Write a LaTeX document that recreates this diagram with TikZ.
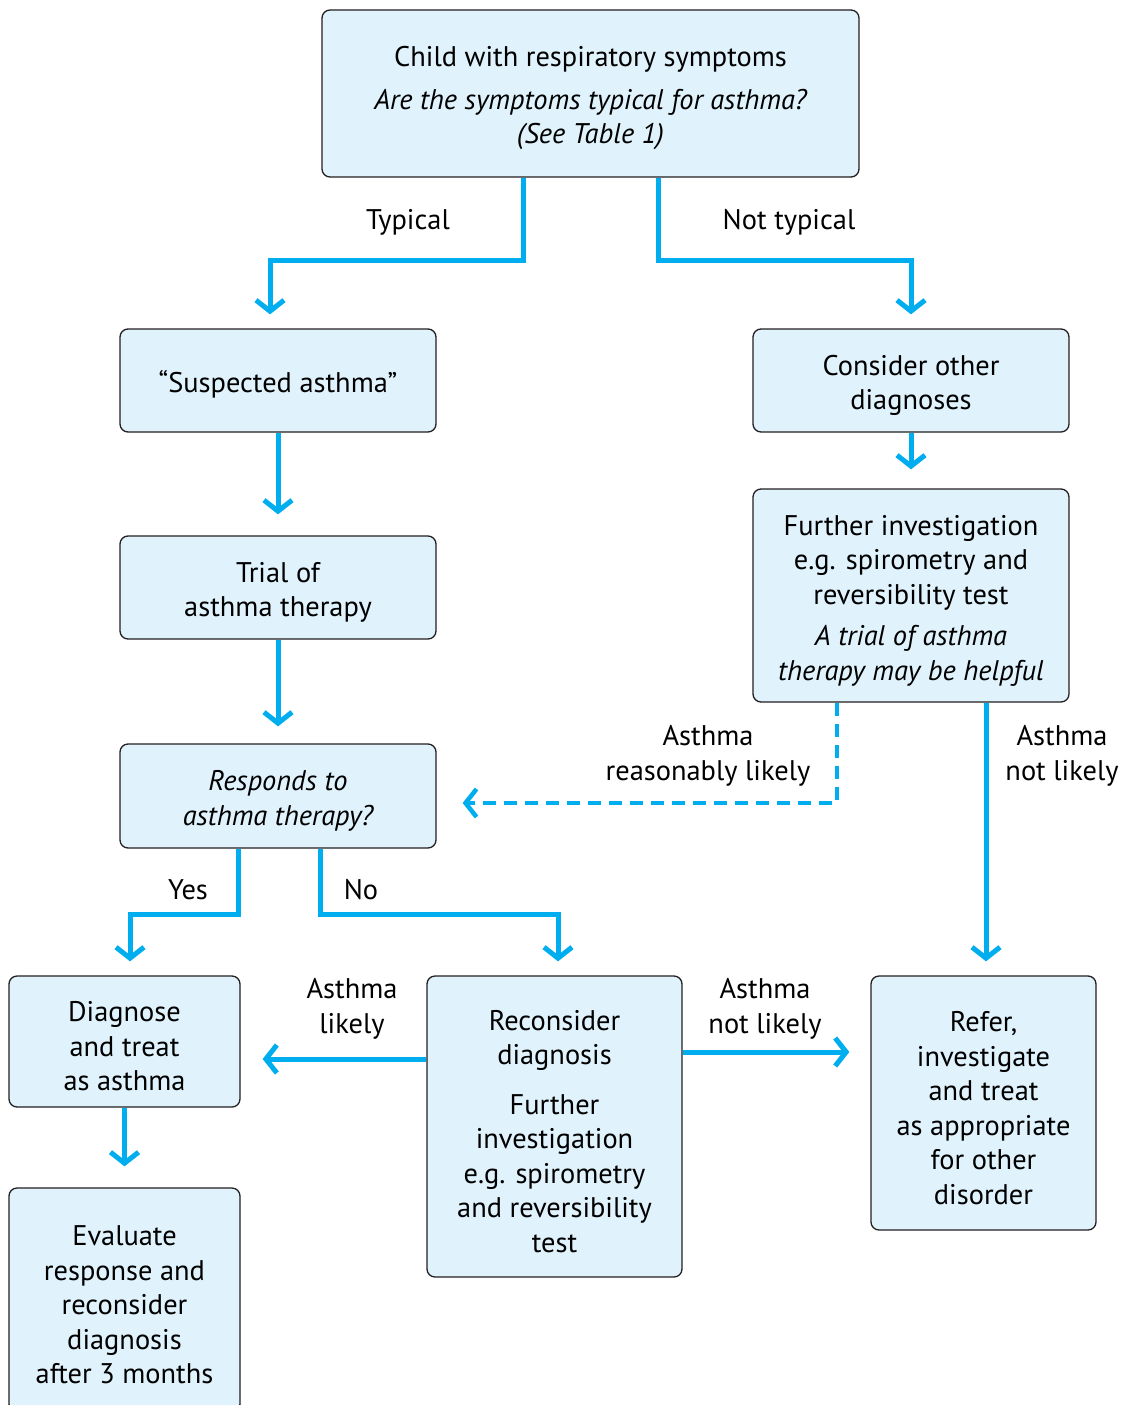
\documentclass[tikz,border=0pt]{standalone}
\usepackage{fontspec}
\setmainfont{PT Sans}
\usetikzlibrary{arrows.meta}
\definecolor{boxfill}{RGB}{224,242,252}
\definecolor{boxline}{RGB}{35,31,32}
\definecolor{flow}{RGB}{0,174,239}
% extra head room on the first line of a box
\newcommand{\headroom}{\rule{0pt}{30pt}}
\begin{document}
\begin{tikzpicture}[x=1pt,y=-1pt,
  every node/.style={font=\fontsize{28.4}{34.5}\selectfont, text=black},
  box/.style={draw=boxline, line width=1.3pt, fill=boxfill, rounded corners=8pt,
    align=center, inner sep=0pt},
  lbl/.style={align=center, inner sep=0pt},
  arr/.style={draw=flow, line width=5pt, line join=miter,
    -{Straight Barb[length=11pt,width=28pt]}},
  darr/.style={arr, line width=4.5pt, dash pattern=on 13pt off 8pt}]
\clip (0,0) rectangle (1125,1405);

% boxes
\node[box, minimum width=537pt, minimum height=167pt] (top) at (590.5,93.5)
  {\headroom Child with respiratory symptoms\\[8pt]
   \itshape Are the symptoms typical for asthma?\\ \itshape (See Table 1)};
\node[box, minimum width=316pt, minimum height=103pt] (susp) at (278,380.5)
  {\headroom``Suspected asthma''};
\node[box, minimum width=316pt, minimum height=103pt] (trial) at (278,587.5)
  {\headroom Trial of\\asthma therapy};
\node[box, minimum width=316pt, minimum height=104pt] (resp) at (278,796)
  {\headroom\itshape Responds to\\ \itshape asthma therapy?};
\node[box, minimum width=316pt, minimum height=103pt] (cons) at (911,380.5)
  {\headroom Consider other\\diagnoses};
\node[box, minimum width=316pt, minimum height=213pt] (further) at (911,595.5)
  {\headroom Further investigation\\e.g. spirometry and\\reversibility test\\[7pt]
   \itshape A trial of asthma\\ \itshape therapy may be helpful};
\node[box, minimum width=231pt, minimum height=131pt] (diag) at (124.5,1041.5)
  {\headroom Diagnose\\and treat\\as asthma};
\node[box, minimum width=231pt, minimum height=224pt] (eval) at (124.5,1300)
  {\headroom Evaluate\\response and\\reconsider\\diagnosis\\after 3 months};
\node[box, minimum width=255pt, minimum height=301pt] (recon) at (554.5,1126.5)
  {\headroom Reconsider\\diagnosis\\[15pt]Further\\investigation\\e.g. spirometry\\and reversibility\\test};
\node[box, minimum width=225pt, minimum height=254pt] (refer) at (983.5,1103)
  {\headroom Refer,\\investigate\\and treat\\as appropriate\\for other\\disorder};

% connectors
\draw[arr, shorten >=14pt] ([xshift=-67.5pt]top.south) -- ++(0,83)
  -| ([xshift=-8pt]susp.north);
\draw[arr, shorten >=14pt] ([xshift=67.5pt]top.south) -- ++(0,83)
  -| (cons.north);
\draw[arr, shorten >=21pt] (susp.south) -- (trial.north);
\draw[arr, shorten >=17pt] (trial.south) -- (resp.north);
\draw[arr, shorten >=19pt] (cons.south) -- (further.north);
\draw[darr, shorten >=26pt] ([xshift=-74pt]further.south)
  |- ([yshift=-7pt]resp.east);
\draw[arr, shorten >=14pt] ([xshift=75pt]further.south) coordinate (v1)
  -- (v1 |- refer.north);
\draw[arr, shorten >=14pt] ([xshift=-40pt]resp.south) -- ++(0,66)
  -| ([xshift=5.5pt]diag.north);
\draw[arr, shorten >=14pt] ([xshift=42pt]resp.south) -- ++(0,66)
  -| ([xshift=3.5pt]recon.north);
\draw[arr, shorten >=22pt] ([yshift=67.5pt]recon.west) coordinate (l1)
  -- (l1 -| diag.east);
\draw[arr, shorten >=21pt] ([yshift=74.5pt]recon.east) coordinate (r1)
  -- (r1 -| refer.west);
\draw[arr, shorten >=21pt] (diag.south) -- (eval.north);

% connector labels
\node[lbl] (ltyp) at (408,222) {Typical};
\node[lbl] (lnot) at (789,222) {Not typical};
\node[lbl] (lrl) at (708,756) {Asthma\\reasonably likely};
\node[lbl] (lnl1) at (1062,756) {Asthma\\not likely};
\node[lbl] (lyes) at (188,890) {Yes};
\node[lbl] (lno) at (361,890) {No};
\node[lbl] (ll) at (352,1009) {Asthma\\likely};
\node[lbl] (lnl2) at (765,1009) {Asthma\\not likely};
\end{tikzpicture}
\end{document}
